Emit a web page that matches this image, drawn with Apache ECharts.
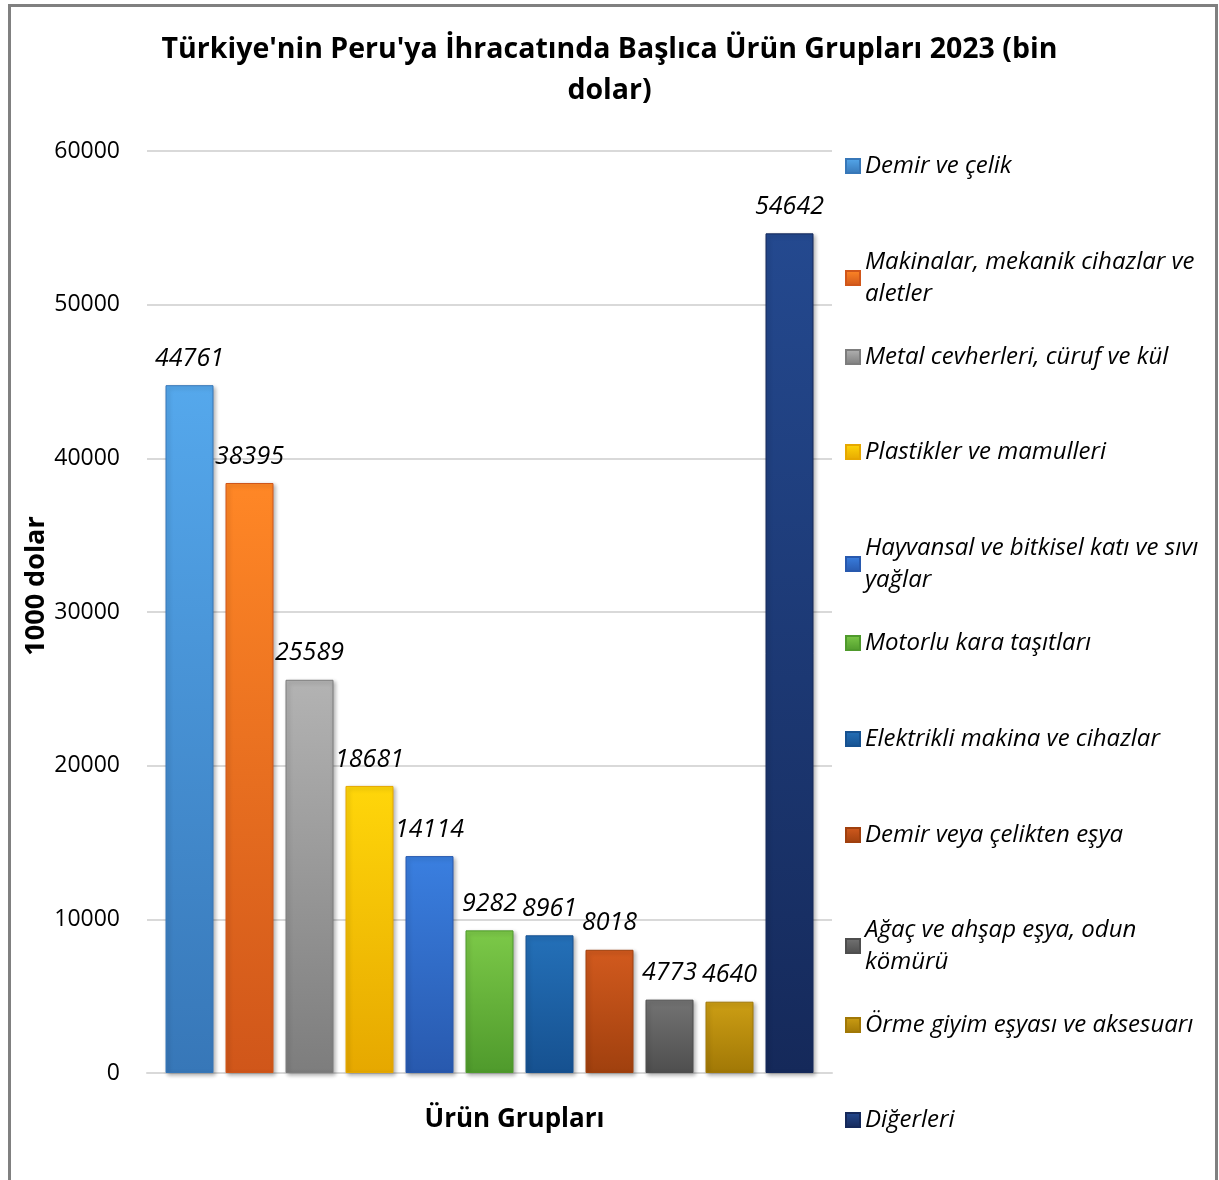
<!DOCTYPE html>
<html>
<head>
<meta charset="utf-8">
<script src="https://cdn.jsdelivr.net/npm/echarts@6/dist/echarts.min.js"></script>
<style>
html,body{margin:0;padding:0;background:#fff;}
#frame{position:absolute;left:8px;top:4px;width:1210px;height:1300px;border:3px solid #808080;box-sizing:border-box;}
#chart{position:absolute;left:0;top:0;width:1219px;height:1180px;}
</style>
</head>
<body>
<div id="frame"></div>
<div id="chart"></div>
<script>
const titleText = "Türkiye'nin Peru'ya İhracatında Başlıca Ürün Grupları 2023 (bin\ndolar)";
const yAxisTitle = "1000 dolar";
const xAxisTitle = "Ürün Grupları";
const categories = [
  "Demir ve çelik",
  "Makinalar, mekanik cihazlar ve aletler",
  "Metal cevherleri, cüruf ve kül",
  "Plastikler ve mamulleri",
  "Hayvansal ve bitkisel katı ve sıvı yağlar",
  "Motorlu kara taşıtları",
  "Elektrikli makina ve cihazlar",
  "Demir veya çelikten eşya",
  "Ağaç ve ahşap eşya, odun kömürü",
  "Örme giyim eşyası ve aksesuarı",
  "Diğerleri"
];
// legend text as wrapped in the reference
const legendLabels = [
  "Demir ve çelik",
  "Makinalar, mekanik cihazlar ve\naletler",
  "Metal cevherleri, cüruf ve kül",
  "Plastikler ve mamulleri",
  "Hayvansal ve bitkisel katı ve sıvı\nyağlar",
  "Motorlu kara taşıtları",
  "Elektrikli makina ve cihazlar",
  "Demir veya çelikten eşya",
  "Ağaç ve ahşap eşya, odun\nkömürü",
  "Örme giyim eşyası ve aksesuarı",
  "Diğerleri"
];
const values = [44761, 38395, 25589, 18681, 14114, 9282, 8961, 8018, 4773, 4640, 54642];
const yMin = 0, yMax = 60000, yStep = 10000;

const colorTop = ["#55A8EC","#FF8726","#B3B3B3","#FFD60A","#3A7FE0","#7CC948","#2470B8","#D25A1E","#737373","#CC9E14","#24498F"];
const colorBot = ["#3777B8","#D0561A","#7D7D7D","#E6A800","#2859AE","#4F9A2C","#165190","#A0400E","#4E4E4E","#A17806","#15295A"];

const FONT = "'Open Sans', 'Noto Sans', sans-serif";
const chart = echarts.init(document.getElementById('chart'), null, {renderer:'canvas'});

function grad(i){
  return new echarts.graphic.LinearGradient(0,0,0,1,[
    {offset:0,color:colorTop[i]},{offset:1,color:colorBot[i]}
  ]);
}

const series = categories.map((name,i)=>({
  type:'bar',
  name:name,
  data:[values[i]],
  barWidth:48,
  barGap:'25%',
  itemStyle:{
    color:grad(i),
    borderColor:colorBot[i],
    borderWidth:1,
    shadowBlur:4,
    shadowOffsetX:2,
    shadowOffsetY:2,
    shadowColor:'rgba(0,0,0,0.3)'
  },
  label:{
    show:true,
    position:'top',
    distance:14,
    fontFamily:FONT,
    fontStyle:'italic',
    fontSize:25,
    color:'#000'
  }
}));

const legendCenters = [164, 260, 355, 450, 546, 641, 737, 833, 928, 1023, 1118];
const LH = 32;
const legends = categories.map((name,i)=>{
  const two = legendLabels[i].indexOf('\n') >= 0;
  return {
    data:[name],
    orient:'vertical',
    left:845,
    top: two ? legendCenters[i] - 1.5*LH + 18 : legendCenters[i] - LH/2 + 2,
    padding:0,
    itemWidth:14,
    itemHeight:14,
    itemGap:0,
    icon:'rect',
    selectedMode:false,
    formatter: () => legendLabels[i],
    textStyle:{
      fontFamily:FONT,
      fontStyle:'italic',
      fontSize:24,
      color:'#000',
      lineHeight:LH,
      padding: two ? [LH,0,0,0] : 0
    }
  };
});

chart.setOption({
  animation:false,
  backgroundColor:'transparent',
  title:{
    text:titleText,
    left:'center',
    top:24,
    textStyle:{fontFamily:FONT,fontWeight:'bold',fontSize:28.5,lineHeight:41,color:'#000'}
  },
  legend:legends,
  grid:{left:147,right:387,top:151,bottom:107},
  xAxis:{
    type:'category',
    data:[''],
    name:xAxisTitle,
    nameLocation:'middle',
    nameGap:34,
    nameTextStyle:{fontFamily:FONT,fontWeight:'bold',fontSize:26,color:'#000',padding:[0,0,0,50]},
    axisTick:{show:false},
    axisLabel:{show:false},
    axisLine:{lineStyle:{color:'#d9d9d9',width:2}}
  },
  yAxis:{
    type:'value',
    min:yMin,max:yMax,interval:yStep,
    name:yAxisTitle,
    nameLocation:'middle',
    nameGap:97,
    nameMoveOverlap:false,
    nameTextStyle:{fontFamily:FONT,fontWeight:'bold',fontSize:27,color:'#000',padding:[0,0,0,52]},
    axisLine:{show:false},
    axisTick:{show:false},
    axisLabel:{fontFamily:FONT,fontSize:23,color:'#000',margin:27,formatter:v=>String(v)},
    splitLine:{lineStyle:{color:'#d9d9d9',width:2}}
  },
  series:series
});
</script>
</body>
</html>
